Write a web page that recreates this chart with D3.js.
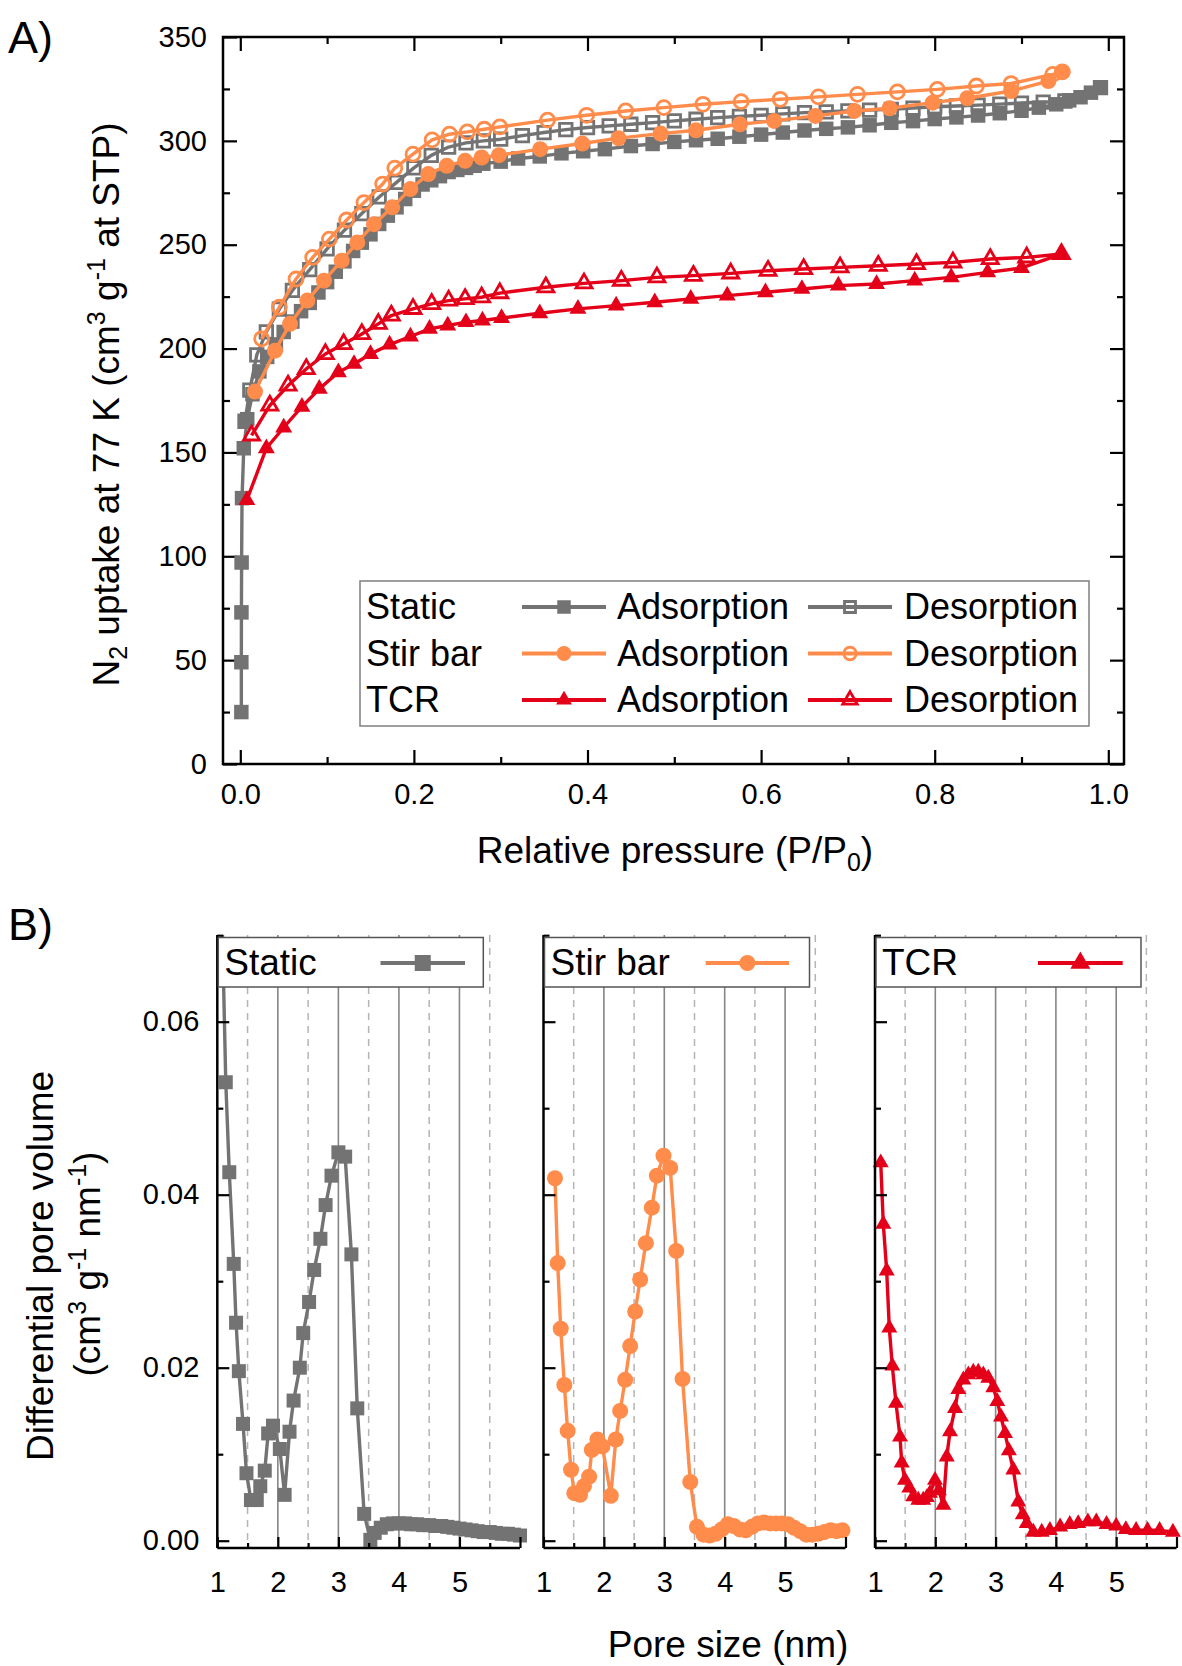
<!DOCTYPE html>
<html><head><meta charset="utf-8">
<script src="https://cdn.jsdelivr.net/npm/d3@7"></script>
<style>
body{margin:0;background:#fff}
svg{display:block}
text{font-family:"Liberation Sans",Arial,sans-serif;fill:#000}
</style>
</head><body>
<svg id="c" width="1182" height="1666"></svg>
<script>
// ---------------- DATA ----------------
// Panel A: N2 isotherms [P/P0, uptake]
const staticAds = [[0.0012,25],[0.0012,49],[0.0013,73],[0.0015,97],[0.002,128],[0.004,152],[0.008,166],[0.014,178],[0.022,189],[0.031,196],[0.041,202],[0.05,208],[0.06,213],[0.07,218],[0.08,222],[0.09,227],[0.1,232],[0.11,237],[0.12,242],[0.13,247],[0.14,251],[0.15,255],[0.16,260],[0.17,264],[0.18,268],[0.19,272],[0.2,276],[0.21,279],[0.22,281],[0.23,283],[0.24,285],[0.25,286],[0.26,287],[0.27,288],[0.28,289],[0.3,290],[0.32,291.5],[0.345,292.5],[0.37,294],[0.395,295],[0.42,296],[0.45,297.5],[0.475,298.5],[0.5,299.5],[0.525,300.3],[0.55,301],[0.575,302],[0.6,303],[0.625,304],[0.65,305],[0.675,305.8],[0.7,306.5],[0.725,307.5],[0.75,308.7],[0.775,309.5],[0.8,310.5],[0.825,311.3],[0.85,312.2],[0.875,313.3],[0.9,314.5],[0.92,316],[0.94,317.6],[0.955,319.5],[0.968,321],[0.98,323.2],[0.991,325.6]];
const staticDes = [[0.991,325.6],[0.95,319.2],[0.925,318.6],[0.9,318.2],[0.875,317.7],[0.85,317.2],[0.825,316.8],[0.8,316.4],[0.775,315.8],[0.75,315.2],[0.725,314.8],[0.7,314.4],[0.675,314],[0.65,313.6],[0.625,313],[0.6,312.3],[0.575,311.8],[0.55,311.2],[0.525,310.4],[0.5,309.6],[0.475,308.8],[0.45,308],[0.425,307.2],[0.4,306.4],[0.375,305.4],[0.35,304],[0.325,302.5],[0.3,300.8],[0.28,300],[0.26,299],[0.24,297],[0.22,293],[0.2,287],[0.18,280],[0.16,273],[0.14,265],[0.12,257],[0.1,248],[0.08,238],[0.06,228],[0.045,219],[0.03,208],[0.019,197],[0.011,180],[0.0054,165]];
const stirAds = [[0.0169,179.3],[0.04,199],[0.0573,211.9],[0.0772,223.1],[0.0964,232.7],[0.1168,242.3],[0.1348,251.1],[0.154,259.9],[0.175,268],[0.196,276.8],[0.2166,284],[0.2378,288],[0.259,290.4],[0.278,292],[0.298,293.1],[0.3455,296],[0.394,298.7],[0.4357,301.3],[0.4843,303.5],[0.525,305.1],[0.5756,308],[0.615,309.6],[0.6626,312],[0.7075,314.4],[0.748,315.7],[0.7977,318.4],[0.8375,320.5],[0.888,324],[0.931,328.8],[0.947,333.2]];
const stirDes = [[0.947,333.2],[0.936,332],[0.888,327.6],[0.848,326.4],[0.803,324.8],[0.757,323.6],[0.711,322.4],[0.666,321.2],[0.622,320],[0.577,318.9],[0.533,317.6],[0.488,316],[0.444,314.4],[0.399,312.3],[0.354,310],[0.299,306.7],[0.281,305.6],[0.2615,304.3],[0.241,303.2],[0.221,300.5],[0.199,293.6],[0.178,286.9],[0.164,279.2],[0.1425,270.3],[0.1225,261.9],[0.1026,252.7],[0.0834,243.9],[0.0642,233.5],[0.045,219.9],[0.0246,204.7]];
const tcrAds = [[0.0075,127],[0.03,152],[0.05,162],[0.071,172],[0.091,180.6],[0.113,188.6],[0.131,192.6],[0.15,197.4],[0.172,201.9],[0.196,205.8],[0.218,209.5],[0.239,211.1],[0.26,212.7],[0.279,213.5],[0.301,214.7],[0.345,217],[0.389,219.1],[0.433,220.7],[0.4775,222.3],[0.519,223.9],[0.561,225.5],[0.605,227.1],[0.647,228.7],[0.689,230.3],[0.733,231.1],[0.777,232.7],[0.819,234.3],[0.861,236.7],[0.9,238.8],[0.946,245.5]];
const tcrDes = [[0.946,245.5],[0.906,243.9],[0.864,243.1],[0.821,241.5],[0.779,240.7],[0.735,239.9],[0.691,239.1],[0.649,238.3],[0.608,237.5],[0.565,236.2],[0.522,235.1],[0.48,234.3],[0.439,232.7],[0.396,231.4],[0.352,229.5],[0.299,226.7],[0.278,224.7],[0.259,223.9],[0.24,223.1],[0.2205,221.5],[0.199,219.1],[0.174,215.9],[0.159,211.9],[0.14,207],[0.119,202.2],[0.098,197.4],[0.076,190.2],[0.055,182.2],[0.034,172.6],[0.013,158.2]];

// Panel B: pore size distributions [nm, cm3 g-1 nm-1]
const staticPSD = [[1.07,0.075],[1.14,0.053],[1.198,0.0426],[1.272,0.032],[1.31,0.0252],[1.356,0.0196],[1.425,0.0135],[1.482,0.0078],[1.556,0.0047],[1.652,0.0047],[1.71,0.0063],[1.784,0.0081],[1.84,0.0124],[1.92,0.0133],[2.033,0.0106],[2.112,0.0053],[2.193,0.0126],[2.26,0.0162],[2.363,0.02],[2.419,0.024],[2.516,0.0276],[2.6,0.0313],[2.703,0.0349],[2.789,0.0388],[2.886,0.0422],[3.0,0.0449],[3.112,0.0444],[3.215,0.0331],[3.312,0.0153],[3.426,0.0031],[3.528,0.0001],[3.6,0.0009],[3.7,0.0015],[3.8,0.0019],[3.9,0.002],[4.0,0.002],[4.1,0.002],[4.2,0.0019],[4.3,0.0019],[4.4,0.0018],[4.5,0.0018],[4.6,0.0017],[4.7,0.0017],[4.8,0.0016],[4.9,0.0015],[5.0,0.0014],[5.1,0.0013],[5.2,0.0012],[5.3,0.0011],[5.4,0.001],[5.5,0.001],[5.6,0.0009],[5.7,0.0008],[5.8,0.0008],[5.9,0.0007],[6.0,0.0006]];
const stirPSD = [[1.19,0.0419],[1.235,0.0321],[1.285,0.0245],[1.345,0.018],[1.40,0.0127],[1.456,0.0082],[1.51,0.0055],[1.605,0.0053],[1.67,0.0063],[1.755,0.0074],[1.80,0.0105],[1.892,0.0117],[1.975,0.0109],[2.114,0.0052],[2.197,0.0117],[2.269,0.015],[2.352,0.0186],[2.435,0.0225],[2.518,0.0265],[2.6,0.0302],[2.695,0.0344],[2.794,0.0385],[2.877,0.0422],[2.987,0.0445],[3.098,0.0431],[3.197,0.0335],[3.302,0.0187],[3.43,0.0068],[3.54,0.0016],[3.65,0.0007],[3.75,0.0006],[3.85,0.0008],[3.95,0.0013],[4.05,0.0019],[4.15,0.0017],[4.25,0.0013],[4.35,0.0012],[4.45,0.0016],[4.55,0.002],[4.65,0.0021],[4.75,0.002],[4.85,0.002],[4.95,0.002],[5.05,0.0019],[5.15,0.0015],[5.25,0.0011],[5.35,0.0007],[5.45,0.0007],[5.55,0.0008],[5.65,0.001],[5.75,0.0012],[5.85,0.0011],[5.95,0.0012]];
const tcrPSD = [[1.095,0.0437],[1.138,0.0366],[1.194,0.0312],[1.237,0.0246],[1.287,0.0202],[1.348,0.0159],[1.415,0.012],[1.443,0.009],[1.497,0.007],[1.569,0.0061],[1.635,0.0051],[1.718,0.0047],[1.80,0.0047],[1.86,0.005],[1.912,0.0055],[1.995,0.007],[2.06,0.0058],[2.133,0.0041],[2.19,0.0097],[2.244,0.0126],[2.327,0.0153],[2.382,0.0175],[2.465,0.0186],[2.548,0.0192],[2.63,0.0195],[2.713,0.0195],[2.796,0.0192],[2.879,0.0188],[2.962,0.0177],[3.028,0.0161],[3.09,0.0143],[3.156,0.0124],[3.22,0.0104],[3.294,0.0082],[3.377,0.0045],[3.45,0.003],[3.516,0.002],[3.626,0.001],[3.765,0.001],[3.9,0.0012],[4.07,0.0016],[4.23,0.0019],[4.37,0.002],[4.53,0.0022],[4.67,0.0022],[4.84,0.0019],[5.0,0.0017],[5.16,0.0013],[5.33,0.0012],[5.52,0.0012],[5.72,0.0012],[5.94,0.001]];

// Tick values / labels
const xTicksA = [0,0.2,0.4,0.6,0.8,1.0];
const xMinorA = [0.1,0.3,0.5,0.7,0.9];
const yTicksA = [0,50,100,150,200,250,300,350];
const yMinorA = [25,75,125,175,225,275,325];
const xTicksB = [1,2,3,4,5,6];
const xMinorB = [1.5,2.5,3.5,4.5,5.5];
const yTicksB = [0,0.02,0.04,0.06];
const yMinorB = [0.01,0.03,0.05,0.07];
const samples = ["Static","Stir bar","TCR"];

// ---------------- STYLE ----------------
const COL = {Static:"#737373","Stir bar":"#ff8c4b",TCR:"#e5001a"};
const SYM = {Static:d3.symbolSquare,"Stir bar":d3.symbolCircle,TCR:d3.symbolTriangle};
const svg = d3.select("#c");

function symSize(sym, w){ // w = visual width in px
  if (sym===d3.symbolSquare) return w*w;
  if (sym===d3.symbolCircle) return Math.PI*w*w/4;
  return Math.sqrt(3)/4*w*w;
}
function drawMarks(g, data, x, y, name, w, open){
  const sym = SYM[name], color = COL[name];
  g.selectAll(null).data(data).join("path")
    .attr("transform", d=>`translate(${x(d[0])},${y(d[1])})`)
    .attr("d", d3.symbol(sym, symSize(sym, w))())
    .attr("fill", open ? "none" : color)
    .attr("stroke", color)
    .attr("stroke-width", open ? 2.8 : 0)
    .attr("stroke-linejoin","miter");
}
function drawLine(g, data, x, y, name, lw){
  g.append("path").datum(data)
    .attr("d", d3.line().x(d=>x(d[0])).y(d=>y(d[1])))
    .attr("fill","none").attr("stroke",COL[name]).attr("stroke-width",lw)
    .attr("stroke-linejoin","round");
}
const openW = {Static:12.5,"Stir bar":14,TCR:16};
const fillW = {Static:14.5,"Stir bar":16,TCR:17};

// ---------------- PANEL A ----------------
const A = {l:223, r:1124, t:37, b:764};
const xA = d3.scaleLinear().domain([0,1]).range([240.3,1108.3]);
const yA = d3.scaleLinear().domain([0,350]).range([A.b, A.t]);

const gA = svg.append("g");
function styleAxis(g){ g.select(".domain").remove(); g.selectAll(".tick line").attr("stroke","#000").attr("stroke-width",2.2); g.selectAll("text").attr("font-size",29).attr("font-family",'"Liberation Sans",Arial,sans-serif').attr("fill","#000"); }
gA.append("g").attr("transform",`translate(0,${A.b})`)
  .call(d3.axisBottom(xA).tickValues(xTicksA).tickFormat(d3.format(".1f")).tickSizeInner(-14).tickSizeOuter(0).tickPadding(19)).call(styleAxis);
gA.append("g").attr("transform",`translate(0,${A.b})`)
  .call(d3.axisBottom(xA).tickValues(xMinorA).tickFormat("").tickSizeInner(-7).tickSizeOuter(0)).call(styleAxis);
gA.append("g").attr("transform",`translate(0,${A.t})`)
  .call(d3.axisTop(xA).tickValues(xTicksA).tickFormat("").tickSizeInner(-14).tickSizeOuter(0)).call(styleAxis);
gA.append("g").attr("transform",`translate(0,${A.t})`)
  .call(d3.axisTop(xA).tickValues(xMinorA).tickFormat("").tickSizeInner(-7).tickSizeOuter(0)).call(styleAxis);
gA.append("g").attr("transform",`translate(${A.l},0)`)
  .call(d3.axisLeft(yA).tickValues(yTicksA).tickFormat(d3.format("d")).tickSizeInner(-14).tickSizeOuter(0).tickPadding(16)).call(styleAxis);
gA.append("g").attr("transform",`translate(${A.l},0)`)
  .call(d3.axisLeft(yA).tickValues(yMinorA).tickFormat("").tickSizeInner(-7).tickSizeOuter(0)).call(styleAxis);
gA.append("g").attr("transform",`translate(${A.r},0)`)
  .call(d3.axisRight(yA).tickValues(yTicksA).tickFormat("").tickSizeInner(-14).tickSizeOuter(0)).call(styleAxis);
gA.append("g").attr("transform",`translate(${A.r},0)`)
  .call(d3.axisRight(yA).tickValues(yMinorA).tickFormat("").tickSizeInner(-7).tickSizeOuter(0)).call(styleAxis);
gA.append("rect").attr("x",A.l).attr("y",A.t).attr("width",A.r-A.l).attr("height",A.b-A.t)
  .attr("fill","none").attr("stroke","#000").attr("stroke-width",2.5);

// data
const isoSets = [["Static",staticDes,staticAds],["Stir bar",stirDes,stirAds],["TCR",tcrDes,tcrAds]];
isoSets.forEach(([name,des,ads])=>{
  const g = gA.append("g");
  drawLine(g, des, xA, yA, name, 3.4);
  drawMarks(g, des, xA, yA, name, openW[name], true);
  drawLine(g, ads, xA, yA, name, 3.4);
  drawMarks(g, ads, xA, yA, name, fillW[name], false);
});

// legend A
const lgA = gA.append("g");
lgA.append("rect").attr("x",360).attr("y",581).attr("width",729).attr("height",145)
  .attr("fill","#fff").attr("stroke","#7f7f7f").attr("stroke-width",1.5);
samples.forEach((name,i)=>{
  const cy = 607 + i*46.5;
  lgA.append("text").attr("x",366).attr("y",cy+12).attr("font-size",36).text(name);
  [[522,606,false,"Adsorption",617],[808,892,true,"Desorption",904]].forEach(([x1,x2,open,lab,tx])=>{
    lgA.append("line").attr("x1",x1).attr("x2",x2).attr("y1",cy).attr("y2",cy)
      .attr("stroke",COL[name]).attr("stroke-width",4);
    drawMarks(lgA, [[ (x1+x2)/2, cy ]], d=>d, d=>d, name, open?openW[name]-1.5:fillW[name]-1, open);
    lgA.append("text").attr("x",tx).attr("y",cy+12).attr("font-size",36).text(lab);
  });
});

// titles A
svg.append("text").attr("x",8).attr("y",53).attr("font-size",45).text("A)");
{
  const t = svg.append("text").attr("x",675).attr("y",863).attr("text-anchor","middle").attr("font-size",37);
  t.append("tspan").text("Relative pressure (P/P");
  t.append("tspan").attr("font-size",25).attr("dy",8).text("0");
  t.append("tspan").attr("dy",-8).text(")");
}
{
  const t = svg.append("text").attr("transform","translate(119,404.5) rotate(-90)").attr("text-anchor","middle").attr("font-size",37);
  t.append("tspan").text("N");
  t.append("tspan").attr("font-size",25).attr("dy",8).text("2");
  t.append("tspan").attr("dy",-8).text(" uptake at 77 K (cm");
  t.append("tspan").attr("font-size",25).attr("dy",-14).text("3");
  t.append("tspan").attr("dy",14).text(" g");
  t.append("tspan").attr("font-size",25).attr("dy",-14).text("-1");
  t.append("tspan").attr("dy",14).text(" at STP)");
}

// ---------------- PANEL B ----------------
const B = {t:935, b:1548};
const yB = d3.scaleLinear().domain([0,0.06]).range([1540.7,1021.7]);
const panelsB = [
  {name:"Static", data:staticPSD, x0:217.3, x1:520, legLine:[380.5,465]},
  {name:"Stir bar", data:stirPSD, x0:543.5, x1:845.5, legLine:[705.7,789]},
  {name:"TCR", data:tcrPSD, x0:875, x1:1176.5, legLine:[1038,1122.7]}
];
const defs = svg.append("defs");
defs.append("clipPath").attr("id","clipB").append("rect").attr("x",0).attr("y",B.t).attr("width",1182).attr("height",B.b-B.t+20);

panelsB.forEach((p,i)=>{
  const x = d3.scaleLinear().domain([1,6]).range([p.x0,p.x1]);
  const g = svg.append("g");
  // gridlines
  g.selectAll(null).data(xMinorB).join("line")
    .attr("x1",d=>x(d)).attr("x2",d=>x(d)).attr("y1",B.t).attr("y2",B.b)
    .attr("stroke","#b4b4b4").attr("stroke-width",1.5).attr("stroke-dasharray","7,6");
  g.selectAll(null).data(xTicksB.filter(d=>d>1&&d<6)).join("line")
    .attr("x1",d=>x(d)).attr("x2",d=>x(d)).attr("y1",B.t).attr("y2",B.b)
    .attr("stroke","#868686").attr("stroke-width",1.6);
  // data
  const gd = g.append("g").attr("clip-path","url(#clipB)");
  drawLine(gd, p.data, x, yB, p.name, 3.4);
  drawMarks(gd, p.data, x, yB, p.name, p.name==="Static"?14:16, false);
  // axes
  g.append("g").attr("transform",`translate(0,${B.b})`)
    .call(d3.axisBottom(x).tickValues(xTicksB).tickFormat(d=>d===6?"":d).tickSizeInner(-11).tickSizeOuter(0).tickPadding(23)).call(styleAxis);
  g.append("g").attr("transform",`translate(0,${B.b})`)
    .call(d3.axisBottom(x).tickValues(xMinorB).tickFormat("").tickSizeInner(-5).tickSizeOuter(0)).call(styleAxis);
  g.append("g").attr("transform",`translate(${p.x0},0)`)
    .call(d3.axisLeft(yB).tickValues(yTicksB).tickFormat(i===0?d3.format(".2f"):"").tickSizeInner(-12).tickSizeOuter(0).tickPadding(18)).call(styleAxis);
  g.append("g").attr("transform",`translate(${p.x0},0)`)
    .call(d3.axisLeft(yB).tickValues(yMinorB).tickFormat("").tickSizeInner(-6).tickSizeOuter(0)).call(styleAxis);
  g.append("line").attr("x1",p.x0).attr("x2",p.x0).attr("y1",B.t).attr("y2",B.b).attr("stroke","#000").attr("stroke-width",2.5);
  g.append("line").attr("x1",p.x0).attr("x2",p.x1).attr("y1",B.b).attr("y2",B.b).attr("stroke","#000").attr("stroke-width",2.5);
  // legend
  const lg = g.append("g");
  lg.append("rect").attr("x",p.x0+1).attr("y",937.5).attr("width",265).attr("height",49.5)
    .attr("fill","#fff").attr("stroke","#555").attr("stroke-width",1.5);
  lg.append("text").attr("x",p.x0+7).attr("y",975).attr("font-size",37).text(p.name);
  lg.append("line").attr("x1",p.legLine[0]).attr("x2",p.legLine[1]).attr("y1",963).attr("y2",963)
    .attr("stroke",COL[p.name]).attr("stroke-width",4);
  drawMarks(lg, [[(p.legLine[0]+p.legLine[1])/2, 963]], d=>d, d=>d, p.name, p.name==="TCR"?20:16, false);
});

// titles B
svg.append("text").attr("x",8).attr("y",940).attr("font-size",45).text("B)");
svg.append("text").attr("x",728).attr("y",1657).attr("text-anchor","middle").attr("font-size",37).text("Pore size (nm)");
svg.append("text").attr("transform","translate(53,1266) rotate(-90)").attr("text-anchor","middle").attr("font-size",37).text("Differential pore volume");
{
  const t = svg.append("text").attr("transform","translate(100,1264) rotate(-90)").attr("text-anchor","middle").attr("font-size",37);
  t.append("tspan").text("(cm");
  t.append("tspan").attr("font-size",25).attr("dy",-14).text("3");
  t.append("tspan").attr("dy",14).text(" g");
  t.append("tspan").attr("font-size",25).attr("dy",-14).text("-1");
  t.append("tspan").attr("dy",14).text(" nm");
  t.append("tspan").attr("font-size",25).attr("dy",-14).text("-1");
  t.append("tspan").attr("dy",14).text(")");
}
</script>
</body></html>
